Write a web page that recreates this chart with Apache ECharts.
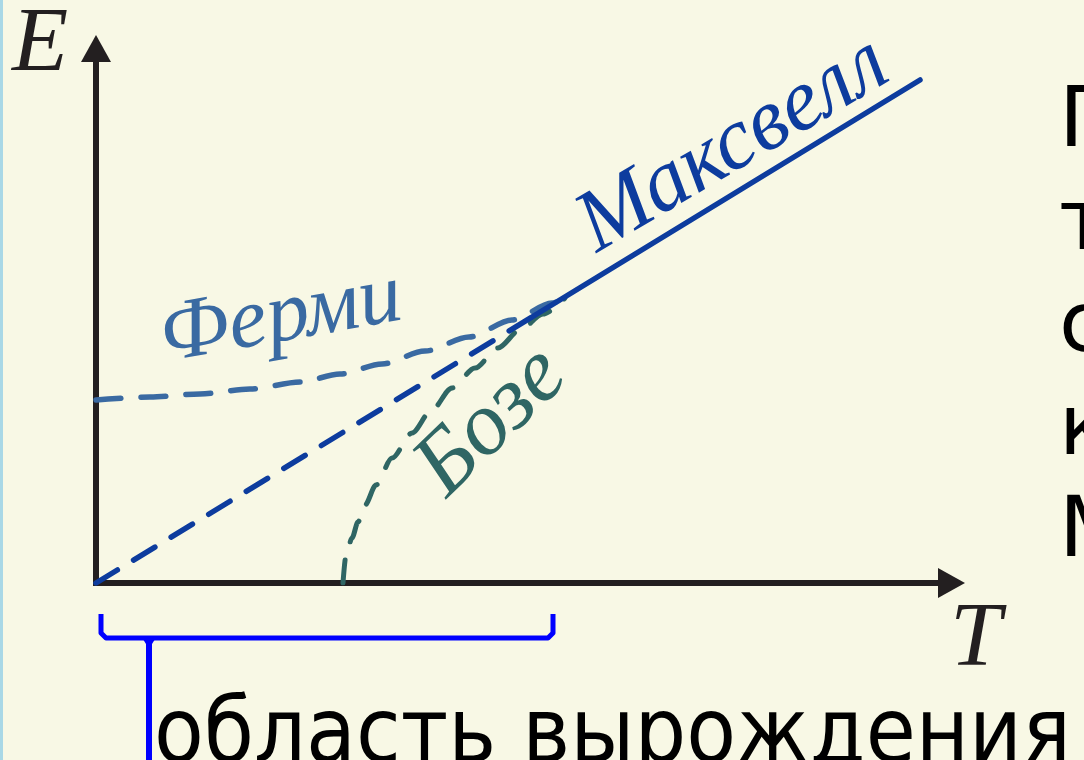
<!DOCTYPE html>
<html>
<head>
<meta charset="utf-8">
<style>
  html, body { margin: 0; padding: 0; background: #f8f8e5; }
  #chart { width: 1084px; height: 760px; }
</style>
<script src="https://cdn.jsdelivr.net/npm/echarts@6/dist/echarts.min.js"></script>
</head>
<body>
<div id="chart"></div>
<script>
// schematic units: E(T), arbitrary
const maxwellT = [0, 4.36, 8.24];
const maxwellE = [0, 2.66, 5.03];
const fermiT = [0, 0.54, 1.04, 1.54, 2.04, 2.44, 2.86, 3.29, 3.73, 4.16, 4.56, 4.76];
const fermiE = [1.83, 1.86, 1.89, 1.94, 2.01, 2.09, 2.19, 2.32, 2.46, 2.63, 2.80, 2.905];
const boseT = [2.47, 2.50, 2.56, 2.62, 2.69, 2.80, 2.96, 3.16, 3.35, 3.56, 3.79, 4.02, 4.24, 4.47, 4.69];
const boseE = [0, 0.28, 0.45, 0.61, 0.78, 0.98, 1.25, 1.50, 1.72, 1.95, 2.15, 2.35, 2.53, 2.69, 2.85];
const axisMax = { T: 8.555, E: 5.345 };

const zip = (xs, ys) => xs.map((x, i) => [x, ys[i]]);

const serif = '"Liberation Serif", "DejaVu Serif", serif';
const sans = '"DejaVu Sans", sans-serif';
const axisColor = '#231f20';
const maxwellColor = '#0d3c9e';
const fermiColor = '#3a6aa2';
const boseColor = '#2f6664';

const chartDom = document.getElementById('chart');
const myChart = echarts.init(chartDom);

const axisBase = {
    type: 'value',
    min: 0,
    axisTick: { show: false },
    axisLabel: { show: false },
    splitLine: { show: false },
    axisLine: {
        show: true,
        symbol: ['none', 'triangle'],
        symbolSize: [30, 27],
        lineStyle: { color: axisColor, width: 6, cap: 'square' },
    },
};

const option = {
    backgroundColor: '#f8f8e5',
    animation: false,
    grid: {
        left: 96,
        right: 132.5,
        top: 48.5,
        bottom: 177,
    },
    xAxis: { ...axisBase, max: axisMax.T },
    yAxis: { ...axisBase, max: axisMax.E },
    series: [
        {
            name: 'Максвелл (пунктир)',
            type: 'line',
            showSymbol: false,
            data: zip(maxwellT.slice(0, 2), maxwellE.slice(0, 2)),
            lineStyle: { color: maxwellColor, width: 5.5, type: [25, 19], cap: 'round' },
            z: 3,
        },
        {
            name: 'Максвелл',
            type: 'line',
            showSymbol: false,
            data: zip(maxwellT.slice(1), maxwellE.slice(1)),
            lineStyle: { color: maxwellColor, width: 5.5, cap: 'round' },
            z: 3,
        },
        {
            name: 'Ферми',
            type: 'line',
            showSymbol: false,
            smooth: 0.3,
            smoothMonotone: 'x',
            data: zip(fermiT, fermiE),
            lineStyle: { color: fermiColor, width: 5.5, type: [25, 20], cap: 'round' },
            z: 2,
        },
        {
            name: 'Бозе',
            type: 'line',
            showSymbol: false,
            smooth: 0.3,
            smoothMonotone: 'x',
            data: zip(boseT, boseE),
            lineStyle: { color: boseColor, width: 5, type: [23, 19], cap: 'round' },
            z: 2,
        },
    ],
    graphic: [
        {
            type: 'rect',
            shape: { x: 0, y: 0, width: 3, height: 760 },
            style: { fill: '#a9d8e6' },
        },
        {
            type: 'text',
            x: 12,
            y: 46,
            style: { text: 'E', font: `italic 92px ${serif}`, fill: axisColor, verticalAlign: 'middle' },
        },
        {
            type: 'text',
            x: 950,
            y: 641,
            style: { text: 'T', font: `italic 92px ${serif}`, fill: axisColor, verticalAlign: 'middle' },
        },
        {
            type: 'text',
            x: 585,
            y: 233,
            rotation: 30.5 * Math.PI / 180,
            style: { text: 'Максвелл', font: `italic 88px ${serif}`, fill: maxwellColor, verticalAlign: 'middle' },
        },
        {
            type: 'text',
            x: 161,
            y: 339,
            rotation: 10 * Math.PI / 180,
            style: { text: 'Ферми', font: `italic 86px ${serif}`, fill: fermiColor, verticalAlign: 'middle' },
        },
        {
            type: 'text',
            x: 430,
            y: 482,
            rotation: 44 * Math.PI / 180,
            style: { text: 'Бозе', font: `italic 90px ${serif}`, fill: boseColor, verticalAlign: 'middle' },
        },
        {
            type: 'text',
            x: 1059,
            y: 73,
            style: {
                text: 'П\nт\nс\nк\nМ',
                font: `84px ${sans}`,
                lineHeight: 102.5,
                fill: '#000',
                verticalAlign: 'top',
            },
        },
        {
            type: 'text',
            x: 154,
            y: 739,
            scaleX: 0.905,
            style: { text: 'область вырождения', font: `90px ${sans}`, fill: '#000', verticalAlign: 'middle' },
        },
        {
            type: 'polyline',
            shape: { points: [[101, 614], [101, 633], [106, 638], [548, 638], [553, 633], [553, 614]] },
            style: { stroke: '#0000ff', lineWidth: 5, fill: null, lineJoin: 'round' },
        },
        {
            type: 'polygon',
            shape: { points: [[141, 636], [157, 636], [152, 644], [152, 760], [146, 760], [146, 644]] },
            style: { fill: '#0000ff' },
        },
    ],
};

myChart.setOption(option);
window.addEventListener('resize', () => {
    myChart.resize();
});
</script>
</body>
</html>
